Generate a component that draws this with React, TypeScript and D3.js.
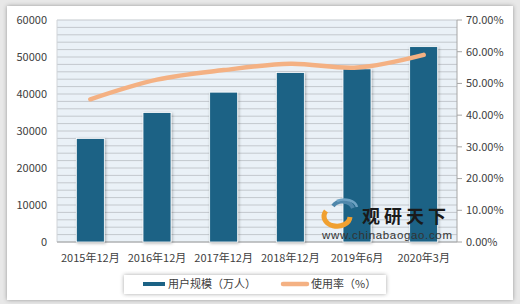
import React from "react";
import * as d3 from "d3";

const categories = ["2015年12月", "2016年12月", "2017年12月", "2018年12月", "2019年6月", "2020年3月"];
const users = [28000, 35000, 40500, 45800, 46800, 52800];
const rates = [0.45, 0.512, 0.542, 0.562, 0.55, 0.59];
const leftTicks = [0, 10000, 20000, 30000, 40000, 50000, 60000];
const rightTicks = [0, 0.1, 0.2, 0.3, 0.4, 0.5, 0.6, 0.7];
const legendLabels = ["用户规模（万人）", "使用率（%）"];

const W = 520, H = 304;
const L = 57, R = 457, T = 20, B = 242;
const font = "'Microsoft YaHei','Noto Sans CJK SC','DejaVu Sans',sans-serif";
const barColor = "#1b6285";
const lineColor = "#f4b183";

export default function App() {
  const x = d3.scaleBand<string>().domain(categories).range([L, R]).paddingInner(0.58).paddingOuter(0.29);
  const y = d3.scaleLinear().domain([0, 60000]).range([B, T]);
  const y2 = d3.scaleLinear().domain([0, 0.7]).range([B, T]);
  const minor = d3.range(0, 60001, 2000);
  const line = d3
    .line<number>()
    .x((_, i) => (x(categories[i]) as number) + x.bandwidth() / 2)
    .y((d) => y2(d))
    .curve(d3.curveCatmullRom.alpha(0.5));

  return (
    <svg width={W} height={H} style={{ position: "absolute", left: 0, top: 0 }}>
      <defs>
        <filter id="sh" x="-20%" y="-20%" width="140%" height="140%">
          <feGaussianBlur in="SourceAlpha" stdDeviation="2" />
          <feOffset dx="0" dy="0" result="b" />
          <feFlood floodColor="#000" floodOpacity="0.35" />
          <feComposite in2="b" operator="in" />
          <feMerge>
            <feMergeNode />
            <feMergeNode in="SourceGraphic" />
          </feMerge>
        </filter>
        <filter id="bsh" x="-30%" y="-10%" width="160%" height="120%">
          <feGaussianBlur in="SourceAlpha" stdDeviation="1.5" />
          <feOffset dx="1" dy="1" result="b" />
          <feFlood floodColor="#000" floodOpacity="0.3" />
          <feComposite in2="b" operator="in" />
          <feMerge>
            <feMergeNode />
            <feMergeNode in="SourceGraphic" />
          </feMerge>
        </filter>
      </defs>
      <rect x={0} y={0} width={W} height={H} fill="#e8e8e8" />
      <rect x={7} y={6} width={506} height={294} fill="#ffffff" filter="url(#sh)" />
      <rect x={L} y={T} width={R - L} height={B - T} fill="#eaf1f7" />
      {minor.map((v) => (
        <line key={v} x1={L} x2={R} y1={y(v)} y2={y(v)} stroke="#c3c8cd" strokeWidth={1} />
      ))}
      <line x1={L} x2={L} y1={T} y2={B} stroke="#d0d4d8" />
      <line x1={L} x2={R} y1={B} y2={B} stroke="#a6a6a6" />
      <line x1={R} x2={R} y1={T} y2={B} stroke="#a6a6a6" />
      {rightTicks.map((t) => (
        <line key={t} x1={R} x2={R + 5} y1={y2(t)} y2={y2(t)} stroke="#a6a6a6" />
      ))}
      {users.map((v, i) => (
        <rect
          key={i}
          x={x(categories[i])}
          y={y(v)}
          width={x.bandwidth()}
          height={B - y(v)}
          fill={barColor}
          stroke="#ffffff"
          strokeWidth={0.8}
          filter="url(#bsh)"
        />
      ))}
      <path d={line(rates) || ""} fill="none" stroke={lineColor} strokeWidth={4.5} strokeLinecap="round" />
      {leftTicks.map((t) => (
        <text key={t} x={47} y={y(t)} dy="0.35em" textAnchor="end" fontSize={11} fill="#404040" fontFamily={font}>
          {t}
        </text>
      ))}
      {rightTicks.map((t) => (
        <text key={t} x={466} y={y2(t)} dy="0.35em" textAnchor="start" fontSize={11} fill="#404040" fontFamily={font}>
          {(t * 100).toFixed(2) + "%"}
        </text>
      ))}
      {categories.map((c) => (
        <text
          key={c}
          x={(x(c) as number) + x.bandwidth() / 2}
          y={262}
          textAnchor="middle"
          fontSize={11}
          fill="#404040"
          fontFamily={font}
        >
          {c}
        </text>
      ))}
      {/* watermark */}
      <g>
        <path d="M326,211 a13,10 0 1,0 24,6" fill="none" stroke="#f0a030" strokeWidth={5} />
        <path d="M333,206 a11,9 0 0,1 20,2" fill="none" stroke="#4f87ab" strokeWidth={4} />
        <path d="M337,201 a13,9 0 0,1 20,6" fill="none" stroke="#6fa3c4" strokeWidth={2.5} />
        <text x={362} y={223} fontSize={18} fontWeight="bold" fill="#1a1a1a" fontFamily={font} letterSpacing={4}>
          观研天下
        </text>
        <text x={322} y={239} fontSize={11.5} fill="#333" fontFamily="'Liberation Sans',Arial,sans-serif" textLength={130}>
          www.chinabaogao.com
        </text>
      </g>
      {/* legend */}
      <rect x={124} y={275} width={262} height={19} fill="#ffffff" filter="url(#sh)" />
      <line x1={143} x2={165} y1={284} y2={284} stroke={barColor} strokeWidth={4} />
      <text x={168} y={284} dy="0.35em" fontSize={11} fill="#404040" fontFamily={font}>
        {legendLabels[0]}
      </text>
      <line x1={283} x2={307} y1={284} y2={284} stroke={lineColor} strokeWidth={4.5} strokeLinecap="round" />
      <text x={311} y={284} dy="0.35em" fontSize={11} fill="#404040" fontFamily={font}>
        {legendLabels[1]}
      </text>
    </svg>
  );
}
